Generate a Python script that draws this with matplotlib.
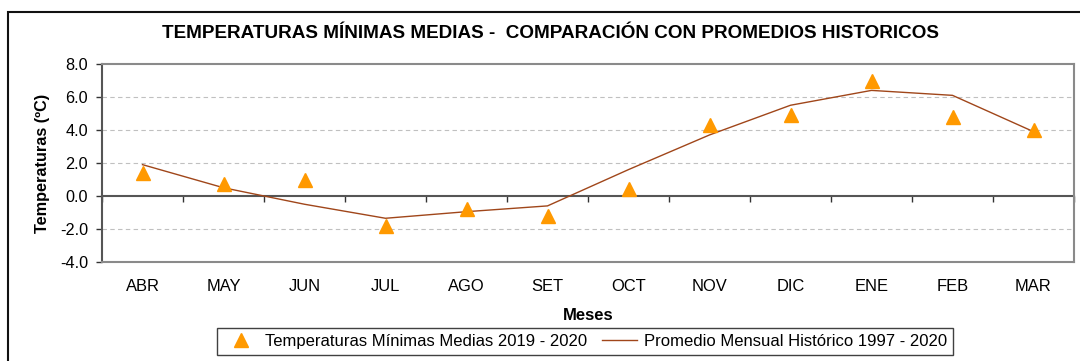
import matplotlib
matplotlib.use("Agg")
import matplotlib.pyplot as plt
from matplotlib.patches import Rectangle
from matplotlib.lines import Line2D

plt.rcParams['font.family'] = ['Liberation Sans', 'DejaVu Sans']

meses = ["ABR", "MAY", "JUN", "JUL", "AGO", "SET", "OCT", "NOV", "DIC", "ENE", "FEB", "MAR"]
tmin_2019_2020 = [1.4, 0.7, 1.0, -1.8, -0.8, -1.2, 0.4, 4.3, 4.9, 7.0, 4.8, 4.0]
promedio_historico = [1.9, 0.5, -0.5, -1.35, -0.95, -0.6, 1.6, 3.7, 5.5, 6.4, 6.1, 3.9]
y_ticks = [-4.0, -2.0, 0.0, 2.0, 4.0, 6.0, 8.0]

W, H, DPI = 1080, 361, 100
fig = plt.figure(figsize=(W / DPI, H / DPI), dpi=DPI)
fig.patch.set_facecolor("white")

# outer chart frame
fig.patches.append(Rectangle((8 / W, -0.2), 1.2, 1 - 12 / H + 0.2, transform=fig.transFigure,
                             fill=False, edgecolor="#111111", linewidth=1.5))

ax = fig.add_axes([102 / W, 1 - 262 / H, (1074 - 102) / W, (262 - 64) / H])
x = list(range(len(meses)))

ax.set_xlim(-0.5, len(meses) - 0.5)
ax.set_ylim(-4, 8)

for v in y_ticks:
    if v not in (-4.0, 0.0, 8.0):
        ax.axhline(v, color="#c0c0c0", linewidth=0.8, linestyle=(0, (4, 3)), zorder=1)

ax.plot(x, promedio_historico, color="#a0461a", linewidth=1.0, zorder=3,
        label="Promedio Mensual Histórico 1997 - 2020")
ax.plot(x, tmin_2019_2020, linestyle="none", marker="^", markersize=10.5,
        color="#ff9900", markeredgecolor="#ff9900", zorder=4,
        label="Temperaturas Mínimas Medias 2019 - 2020")

# plot area border
for side in ("top", "right", "bottom"):
    ax.spines[side].set_color("#8a8a8a")
    ax.spines[side].set_linewidth(1.5)
ax.spines["left"].set_color("#555555")
ax.spines["left"].set_linewidth(1.5)

ax.set_yticks(y_ticks)
ax.set_yticklabels([f"{v:.1f}" for v in y_ticks], fontsize=11.7)
ax.tick_params(axis="y", direction="out", length=4, width=1, color="#333333", pad=6)

ax.set_xticks(x)
ax.set_xticklabels(meses, fontsize=11.9)
ax.tick_params(axis="x", length=0, pad=12)

# horizontal axis crossing at zero, with tick marks between categories
sec = ax.secondary_xaxis(4 / 12)
sec.spines["bottom"].set_color("#555555")
sec.spines["bottom"].set_linewidth(1.5)
sec.set_xticks([i + 0.5 for i in range(-1, len(meses))])
sec.set_xticklabels([])
sec.tick_params(axis="x", direction="out", length=4, width=1, color="#333333")

ax.set_ylabel("Temperaturas (ºC)", fontsize=11.7, fontweight="bold", labelpad=7)
fig.text(550 / W, 1 - 34 / H, "TEMPERATURAS MÍNIMAS MEDIAS -  COMPARACIÓN CON PROMEDIOS HISTORICOS",
         ha="center", va="center", fontsize=13.6, fontweight="bold")
fig.text(588 / W, 1 - 316 / H, "Meses", ha="center", va="center", fontsize=12, fontweight="bold")

handles = [Line2D([], [], linestyle="none", marker="^", markersize=10.5, color="#ff9900"),
           Line2D([], [], color="#a0461a", linewidth=1.0)]
labels = ["Temperaturas Mínimas Medias 2019 - 2020", "Promedio Mensual Histórico 1997 - 2020"]
leg = fig.legend(handles, labels, loc="center", bbox_to_anchor=(585 / W, 1 - 341.5 / H),
                 ncol=2, fontsize=12, frameon=True, fancybox=False, shadow=False,
                 borderpad=0.35, handlelength=2.1, columnspacing=0.9, handletextpad=0.4,
                 borderaxespad=0)
leg.get_frame().set_edgecolor("#111111")
leg.get_frame().set_linewidth(1.0)

fig.savefig("out.png", dpi=DPI, facecolor="white")
